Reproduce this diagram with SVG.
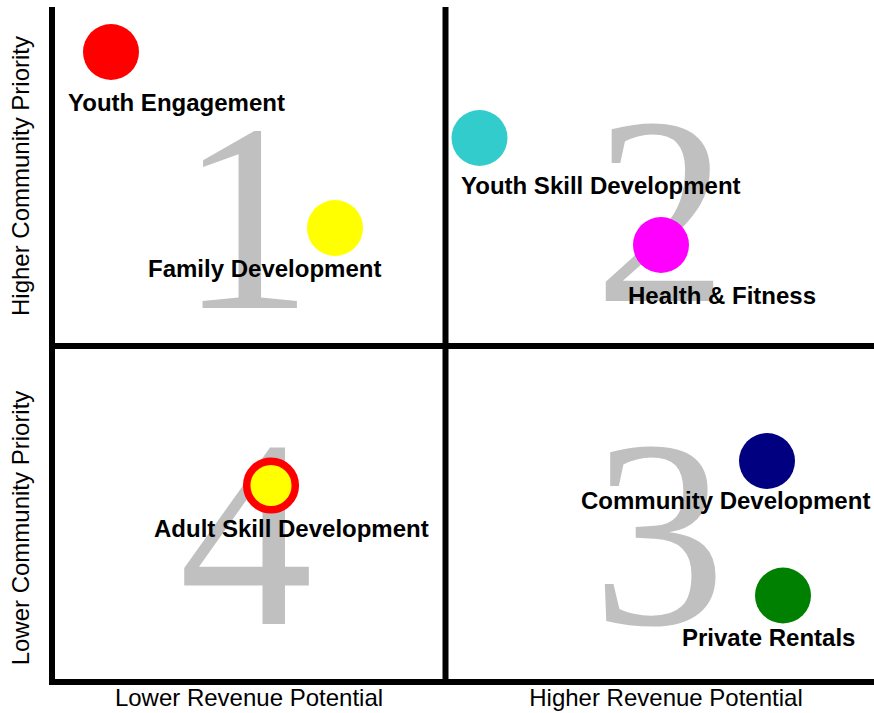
<svg xmlns="http://www.w3.org/2000/svg" width="874" height="713" viewBox="0 0 874 713">
<style>
.big{font-family:"Liberation Serif","Times New Roman",serif;font-size:268px;fill:#C0C0C0;text-anchor:middle}
.lbl{font-family:"Liberation Sans",Arial,sans-serif;font-size:24px;font-weight:bold;fill:#000}
.ax{font-family:"Liberation Sans",Arial,sans-serif;font-size:24px;fill:#000;text-anchor:middle}
.ln{stroke:#000;stroke-width:6;fill:none}
</style>
<rect width="874" height="713" fill="#fff"/>
<g id="quadrant-numbers">
<text class="big" x="246" y="308">1</text>
<text class="big" x="661" y="301">2</text>
<text class="big" x="659" y="624">3</text>
<text class="big" x="246" y="624">4</text>
</g>
<g id="connectors">
<line class="ln" x1="52" y1="7" x2="52" y2="685"/>
<line class="ln" x1="49" y1="682" x2="874" y2="682"/>
<line class="ln" x1="445.5" y1="7" x2="445.5" y2="682"/>
<line class="ln" x1="52" y1="346" x2="874" y2="346"/>
</g>
<g id="axis-labels">
<text class="ax" x="249" y="706">Lower Revenue Potential</text>
<text class="ax" x="666" y="706">Higher Revenue Potential</text>
<text class="ax" transform="translate(29,176) rotate(-90)">Higher Community Priority</text>
<text class="ax" transform="translate(29,528) rotate(-90)">Lower Community Priority</text>
</g>
<g id="youth-engagement">
<circle cx="111" cy="52" r="28" fill="#FF0000"/>
<text class="lbl" x="68" y="111">Youth Engagement</text>
</g>
<g id="family-development">
<circle cx="335" cy="228" r="28" fill="#FFFF00"/>
<text class="lbl" x="148" y="277">Family Development</text>
</g>
<g id="youth-skill-development">
<circle cx="479.5" cy="138" r="28" fill="#33CCCC"/>
<text class="lbl" x="461" y="194">Youth Skill Development</text>
</g>
<g id="health-fitness">
<circle cx="661" cy="245" r="28" fill="#FF00FF"/>
<text class="lbl" x="628" y="304">Health &amp; Fitness</text>
</g>
<g id="adult-skill-development">
<circle cx="271" cy="485.5" r="24.3" fill="#FFFF00" stroke="#FF0000" stroke-width="7.5"/>
<text class="lbl" x="154" y="537">Adult Skill Development</text>
</g>
<g id="community-development">
<circle cx="767" cy="461" r="28" fill="#000080"/>
<text class="lbl" x="581" y="509">Community Development</text>
</g>
<g id="private-rentals">
<circle cx="783" cy="595.5" r="28" fill="#008000"/>
<text class="lbl" x="682" y="646">Private Rentals</text>
</g>
</svg>
